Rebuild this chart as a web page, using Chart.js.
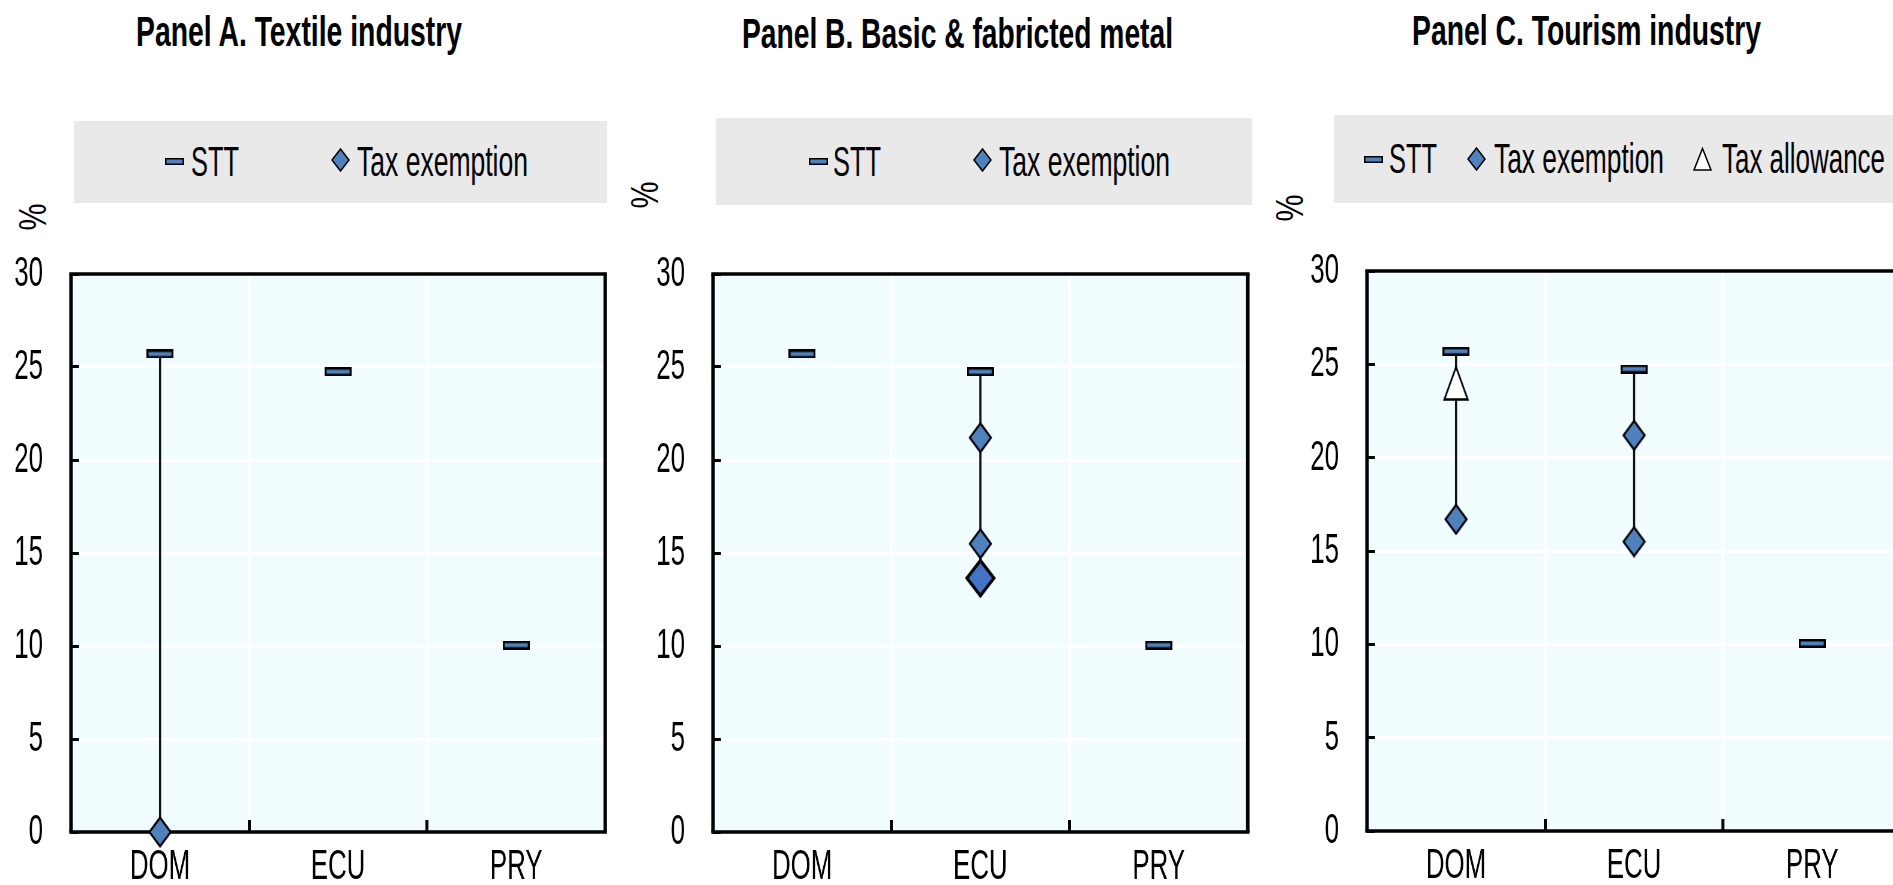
<!DOCTYPE html>
<html>
<head>
<meta charset="utf-8">
<script src="https://cdn.jsdelivr.net/npm/chart.js@4.4.1/dist/chart.umd.min.js"></script>
<style>
  html, body { margin: 0; padding: 0; background: #fff; overflow: hidden; width: 1893px; height: 885px; }
  body { position: relative; }
  .wrap { position: absolute; }
  .inner { position: absolute; left: 0; top: 0; transform-origin: 0 0; }
  .box { position: absolute; background: #E9E9E9; }
  .txt { position: absolute; white-space: nowrap; line-height: 1; transform-origin: 0 0; color: #000; }
  .icon { position: absolute; line-height: 0; }
</style>
</head>
<body>
<script>
const FONT = "'Liberation Sans', Arial, sans-serif";
const S = 0.6;           // the original picture is squeezed horizontally
const BLUE = '#4F81BD';
const BG = '#F0FCFF';

// data
const categories = ['DOM', 'ECU', 'PRY'];
const yTicks = [0, 5, 10, 15, 20, 25, 30];

// Panel A. Textile industry
const sttA = [25.7, 24.75, 10.05];
const exemptA = [[0], [], []];

// Panel B. Basic & fabricted metal
const sttB = [25.7, 24.75, 10.05];
const exemptB = [[], [21.2, 15.5], []];
const exemptBOverlap = [null, 13.65, null];

// Panel C. Tourism industry
const sttC = [25.7, 24.75, 10.05];
const exemptC = [[16.7], [21.2, 15.5], []];
const allowanceC = [24.0, null, null];

// layout (page pixels)
const panels = [
  { title: 'Panel A. Textile industry', titleX: [136, 462], titleBase: 46,
    stt: sttA, exempt: exemptA, overlap: null, allow: null,
    plot: [71, 605, 274, 832], pct: [33, 217],
    box: [74, 121, 607, 203],
    legend: [['stt', 165, 161, 'STT', 191, 239, 176], ['diamond', 331, 160, 'Tax exemption', 357, 528, 176]] },
  { title: 'Panel B. Basic & fabricted metal', titleX: [742, 1173], titleBase: 48,
    stt: sttB, exempt: exemptB, overlap: exemptBOverlap, allow: null,
    plot: [713, 1248, 274, 832], pct: [645, 195],
    box: [716, 118, 1252, 205],
    legend: [['stt', 809, 161, 'STT', 833, 881, 176], ['diamond', 973, 160, 'Tax exemption', 999, 1170, 176]] },
  { title: 'Panel C. Tourism industry', titleX: [1412, 1761], titleBase: 45,
    stt: sttC, exempt: exemptC, overlap: null, allow: allowanceC,
    plot: [1367, 1901, 270.5, 830], pct: [1290, 207.5],
    box: [1334, 115, 1900, 203],
    legend: [['stt', 1364, 159.5, 'STT', 1389, 1437, 173], ['diamond', 1467, 159, 'Tax exemption', 1494, 1664, 173],
             ['triangle', 1693, 159, 'Tax allowance', 1722, 1885, 173]] }
];

function placeText(txt, x0, x1, base, size, bold) {
  const el = document.createElement('div');
  el.className = 'txt';
  el.textContent = txt;
  el.style.font = (bold ? 'bold ' : '') + size + 'px ' + FONT;
  el.style.lineHeight = '1';
  el.style.left = x0 + 'px';
  el.style.top = (base - 0.846 * size) + 'px';
  document.body.appendChild(el);
  const w = el.getBoundingClientRect().width;
  el.style.transform = `scaleX(${(x1 - x0) / w})`;
}

function placeRotated(txt, cx, cy, size) {
  const el = document.createElement('div');
  el.className = 'txt';
  el.textContent = txt;
  el.style.font = size + 'px ' + FONT;
  el.style.lineHeight = '1';
  document.body.appendChild(el);
  const r = el.getBoundingClientRect();
  el.style.left = (cx - r.width / 2) + 'px';
  el.style.top = (cy - r.height / 2) + 'px';
  el.style.transformOrigin = '50% 50%';
  el.style.transform = 'rotate(-90deg) scaleX(0.8)';
}

function placeBox(b) {
  const d = document.createElement('div');
  d.className = 'box';
  d.style.left = b[0] + 'px';
  d.style.top = b[1] + 'px';
  d.style.width = (b[2] - b[0]) + 'px';
  d.style.height = (b[3] - b[1]) + 'px';
  document.body.appendChild(d);
}

function placeIcon(kind, x0, yc) {
  const w = 19, h = kind === 'stt' ? 7 : 24;
  let shape;
  if (kind === 'stt') shape = `<rect x="0.75" y="0.75" width="17.5" height="5.5" fill="${BLUE}" stroke="#000" stroke-width="1.5"/>`;
  if (kind === 'diamond') shape = `<polygon points="9.5,1 18,12 9.5,23 1,12" fill="${BLUE}" stroke="#000" stroke-width="1.5"/>`;
  if (kind === 'triangle') shape = `<polygon points="9.5,1.5 18,23 1,23" fill="#fff" stroke="#000" stroke-width="1.5"/>`;
  const d = document.createElement('div');
  d.className = 'icon';
  d.style.left = x0 + 'px';
  d.style.top = (yc - h / 2) + 'px';
  d.innerHTML = `<svg width="${w}" height="${h}" viewBox="0 0 ${w} ${h}">${shape}</svg>`;
  document.body.appendChild(d);
}

// marker images, drawn wider so they look right after the squeeze
function markerCanvas(wFull, h, draw) {
  const c = document.createElement('canvas');
  c.width = Math.round(wFull / S);
  c.height = h;
  draw(c.getContext('2d'), c.width, c.height);
  return c;
}
const sttImg = markerCanvas(27, 9, (g, w, h) => {
  g.fillStyle = '#000';
  g.fillRect(0, 0, w, h);
  g.fillStyle = BLUE;
  g.fillRect(2 / S, 2.5, w - 4 / S, h - 5);
});
function diamond(fill, lw) {
  return (g, w, h) => {
    const ix = lw / S * 0.7, iy = lw * 0.8;
    g.beginPath();
    g.moveTo(w / 2, iy); g.lineTo(w - ix, h / 2); g.lineTo(w / 2, h - iy); g.lineTo(ix, h / 2);
    g.closePath();
    g.fillStyle = fill; g.fill();
    g.lineJoin = 'miter';
    g.lineWidth = lw / S * 0.8; g.strokeStyle = '#000'; g.stroke();
  };
}
const diamondImg = markerCanvas(24, 32, diamond(BLUE, 2));
const bigDiamondImg = markerCanvas(31, 40, diamond('#4472C4', 3));
const triangleImg = markerCanvas(27, 36, (g, w, h) => {
  g.beginPath();
  g.moveTo(w / 2, 2); g.lineTo(w - 3, h - 1.5); g.lineTo(3, h - 1.5);
  g.closePath();
  g.fillStyle = '#fff'; g.fill();
  g.lineWidth = 2.6; g.strokeStyle = '#000'; g.stroke();
});

function points(list) {
  const out = [];
  list.forEach((vals, i) => vals.forEach(v => out.push({ x: categories[i], y: v })));
  return out;
}

function ranges(p) {
  return categories.map((c, i) => {
    const inc = [...p.exempt[i]];
    if (p.overlap && p.overlap[i] != null) inc.push(p.overlap[i]);
    if (p.allow && p.allow[i] != null) inc.push(p.allow[i]);
    if (!inc.length) return null;
    return [Math.min(...inc), p.stt[i]];
  });
}

const framePlugin = {
  id: 'frame',
  beforeDraw(chart) {
    const a = chart.chartArea, ctx = chart.ctx;
    ctx.save();
    ctx.fillStyle = BG;
    ctx.fillRect(a.left, a.top, a.right - a.left, a.bottom - a.top);
    ctx.restore();
  },
  beforeDatasetsDraw(chart) {
    const a = chart.chartArea, ctx = chart.ctx;
    const hw = 3.5, vw = 3.5 / S;
    ctx.save();
    ctx.strokeStyle = '#000';
    ctx.lineWidth = hw;
    ctx.beginPath();
    ctx.moveTo(a.left - vw / 2, a.top); ctx.lineTo(a.right + vw / 2, a.top);
    ctx.moveTo(a.left - vw / 2, a.bottom); ctx.lineTo(a.right + vw / 2, a.bottom);
    ctx.stroke();
    ctx.lineWidth = vw;
    ctx.beginPath();
    ctx.moveTo(a.left, a.top); ctx.lineTo(a.left, a.bottom);
    ctx.moveTo(a.right, a.top); ctx.lineTo(a.right, a.bottom);
    ctx.stroke();
    ctx.restore();
  }
};

function makeChart(p) {
  const [L, R, T, B] = p.plot;
  const padTop = 34, axisH = 53, yAxisW = 71, padRight = 20;
  const wFull = R - L + yAxisW + padRight;
  const h = B - T + padTop + axisH;

  const wrap = document.createElement('div');
  wrap.className = 'wrap';
  wrap.style.left = (L - yAxisW) + 'px';
  wrap.style.top = (T - padTop) + 'px';
  const inner = document.createElement('div');
  inner.className = 'inner';
  inner.style.transform = `scaleX(${S})`;
  const cv = document.createElement('canvas');
  cv.width = Math.round(wFull / S);
  cv.height = Math.round(h);
  cv.style.width = cv.width + 'px';
  cv.style.height = cv.height + 'px';
  inner.appendChild(cv);
  wrap.appendChild(inner);
  document.body.appendChild(wrap);

  const datasets = [
    { type: 'bar', data: ranges(p), backgroundColor: '#111', barThickness: 1.7 / S, grouped: false, order: 10 },
    { type: 'line', label: 'STT', data: p.stt, showLine: false, pointStyle: sttImg, pointRadius: 12, clip: false, order: 1 },
    { type: 'line', label: 'Tax exemption', data: points(p.exempt), showLine: false, pointStyle: diamondImg,
      pointRadius: 16, clip: false, order: 3 }
  ];
  if (p.overlap) {
    datasets.push({ type: 'line', label: 'Tax exemption', data: p.overlap, showLine: false, pointStyle: bigDiamondImg,
      pointRadius: 20, clip: false, order: 2 });
  }
  if (p.allow) {
    datasets.push({ type: 'line', label: 'Tax allowance', data: p.allow, showLine: false, pointStyle: triangleImg,
      pointRadius: 18, clip: false, order: 2 });
  }

  new Chart(cv, {
    type: 'bar',
    data: { labels: categories, datasets: datasets },
    options: {
      responsive: false,
      animation: false,
      layout: { padding: { left: 0, right: padRight / S, top: padTop, bottom: 0 } },
      plugins: { legend: { display: false }, tooltip: { enabled: false } },
      scales: {
        x: {
          type: 'category', offset: true,
          grid: { offset: true, color: '#fff', lineWidth: 3 / S, drawTicks: true, tickLength: -12, tickWidth: 3 / S, tickColor: '#000' },
          border: { display: false },
          ticks: { color: '#000', font: { family: FONT, size: 43 }, padding: 21, maxRotation: 0, autoSkip: false },
          afterFit: s => { s.height = axisH; s.paddingLeft = 0; s.paddingRight = 0; }
        },
        y: {
          min: 0, max: 30,
          afterBuildTicks: s => { s.ticks = yTicks.map(v => ({ value: v })); },
          grid: { color: '#fff', lineWidth: 3, drawTicks: true, tickLength: -8 / S, tickWidth: 3, tickColor: '#000' },
          border: { display: false },
          ticks: { color: '#000', font: { family: FONT, size: 43 }, padding: (28 + 8) / S },
          afterFit: s => { s.width = yAxisW / S; s.paddingTop = 0; s.paddingBottom = 0; }
        }
      }
    },
    plugins: [framePlugin]
  });
}

panels.forEach(p => {
  placeBox(p.box);
  p.legend.forEach(it => {
    placeIcon(it[0], it[1], it[2]);
    placeText(it[3], it[4], it[5], it[6], 43, false);
  });
  placeText(p.title, p.titleX[0], p.titleX[1], p.titleBase, 43, true);
  placeRotated('%', p.pct[0], p.pct[1], 38);
  makeChart(p);
});
</script>
</body>
</html>
